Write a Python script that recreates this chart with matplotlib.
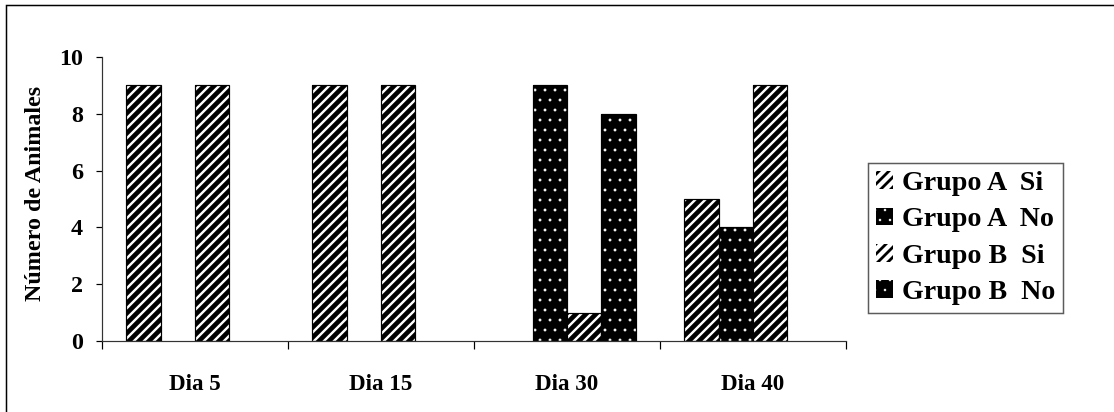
import numpy as np
import matplotlib
matplotlib.use("Agg")
import matplotlib.pyplot as plt
from matplotlib.patches import Rectangle

# data
dias = ["Dia 5", "Dia 15", "Dia 30", "Dia 40"]
series = ["Grupo A  Si", "Grupo A  No", "Grupo B  Si", "Grupo B  No"]
grupo_a_si = [9, 9, 0, 5]
grupo_a_no = [0, 0, 9, 4]
grupo_b_si = [9, 9, 1, 9]
grupo_b_no = [0, 0, 8, 0]
valores = [grupo_a_si, grupo_a_no, grupo_b_si, grupo_b_no]

DPI = 120
W, H = 1114, 412
PX = 72.0 / DPI  # points per pixel

plt.rcParams["font.family"] = ["Liberation Serif", "DejaVu Serif"]
plt.rcParams["font.weight"] = "bold"

fig = plt.figure(figsize=(W / DPI, H / DPI), dpi=DPI)
ax = fig.add_axes([102 / W, 1 - 341 / H, (846 - 102) / W, (341 - 57) / H])

x = np.arange(len(dias))
bw = 0.185
start = -2 * bw
# (facecolor, hatch colour, hatch, hatch linewidth)
estilos = [
    ("white", "black", "////", 2.8),
    ("black", "white", "..", 0.5),
    ("white", "black", "////", 2.8),
    ("black", "white", "..", 0.5),
]

for i, (nombre, vals) in enumerate(zip(series, valores)):
    fc, hc, hatch, hlw = estilos[i]
    pos = x + start + i * bw
    with plt.rc_context({"hatch.linewidth": hlw}):
        bars = ax.bar(pos, vals, width=bw, align="edge", linewidth=0,
                      label=nombre, facecolor=fc, edgecolor=hc, hatch=hatch)
    for b in bars:
        if hasattr(b, "set_hatch_linewidth"):
            b.set_hatch_linewidth(hlw)
    # black outline on top of the texture, only for visible bars
    vis = [v > 0 for v in vals]
    ax.bar(pos[vis], np.array(vals)[vis], width=bw, align="edge", fill=False,
           edgecolor="black", linewidth=1.2 * PX)

ax.set_xlim(-0.5, len(dias) - 0.5)
ax.set_ylim(0, 10)
ax.set_yticks(np.arange(0, 11, 2))
ax.set_xticks(x)
ax.set_xticklabels(dias, fontsize=23 * PX, fontweight="bold")
ax.set_xticks(np.arange(-0.5, len(dias), 1), minor=True)
ax.tick_params(axis="x", which="major", length=0, pad=33 * PX)
ax.tick_params(axis="x", which="minor", length=8 * PX, width=1.2 * PX,
               direction="out")
ax.tick_params(axis="y", length=6 * PX, width=1.2 * PX, pad=13 * PX,
               labelsize=24 * PX)
for lab in ax.get_yticklabels():
    lab.set_fontweight("bold")

for s in ["top", "right"]:
    ax.spines[s].set_visible(False)
for s in ["left", "bottom"]:
    ax.spines[s].set_linewidth(1.2 * PX)
    ax.spines[s].set_color("#333333")

ax.set_ylabel("Número de Animales", fontsize=24 * PX, fontweight="bold")
ax.yaxis.set_label_coords(-0.075, 0.52)

leg = ax.legend(loc="center left", bbox_to_anchor=(868 / W, 1 - 238 / H),
                bbox_transform=fig.transFigure, prop=dict(size=28 * PX,
                weight="bold"), frameon=True, fancybox=False,
                handlelength=0.6, handleheight=0.6, handletextpad=0.3,
                labelspacing=0.4, borderpad=0.3, borderaxespad=0)
leg.get_frame().set_edgecolor("#333333")
leg.get_frame().set_linewidth(1.5 * PX)
handles = getattr(leg, "legend_handles", None) or getattr(leg, "legendHandles", [])
for h, est in zip(handles, estilos):
    if hasattr(h, "set_hatch_linewidth"):
        h.set_hatch_linewidth(est[3] * 0.6)

# figure frame (only top and left visible in the reference)
fig.patches.append(Rectangle((6 / W, -0.5), 1.5, 1.5 - 5 / H, fill=False,
                             edgecolor="black", linewidth=1.5 * PX,
                             transform=fig.transFigure, figure=fig))

fig.savefig("out.png", dpi=DPI)
